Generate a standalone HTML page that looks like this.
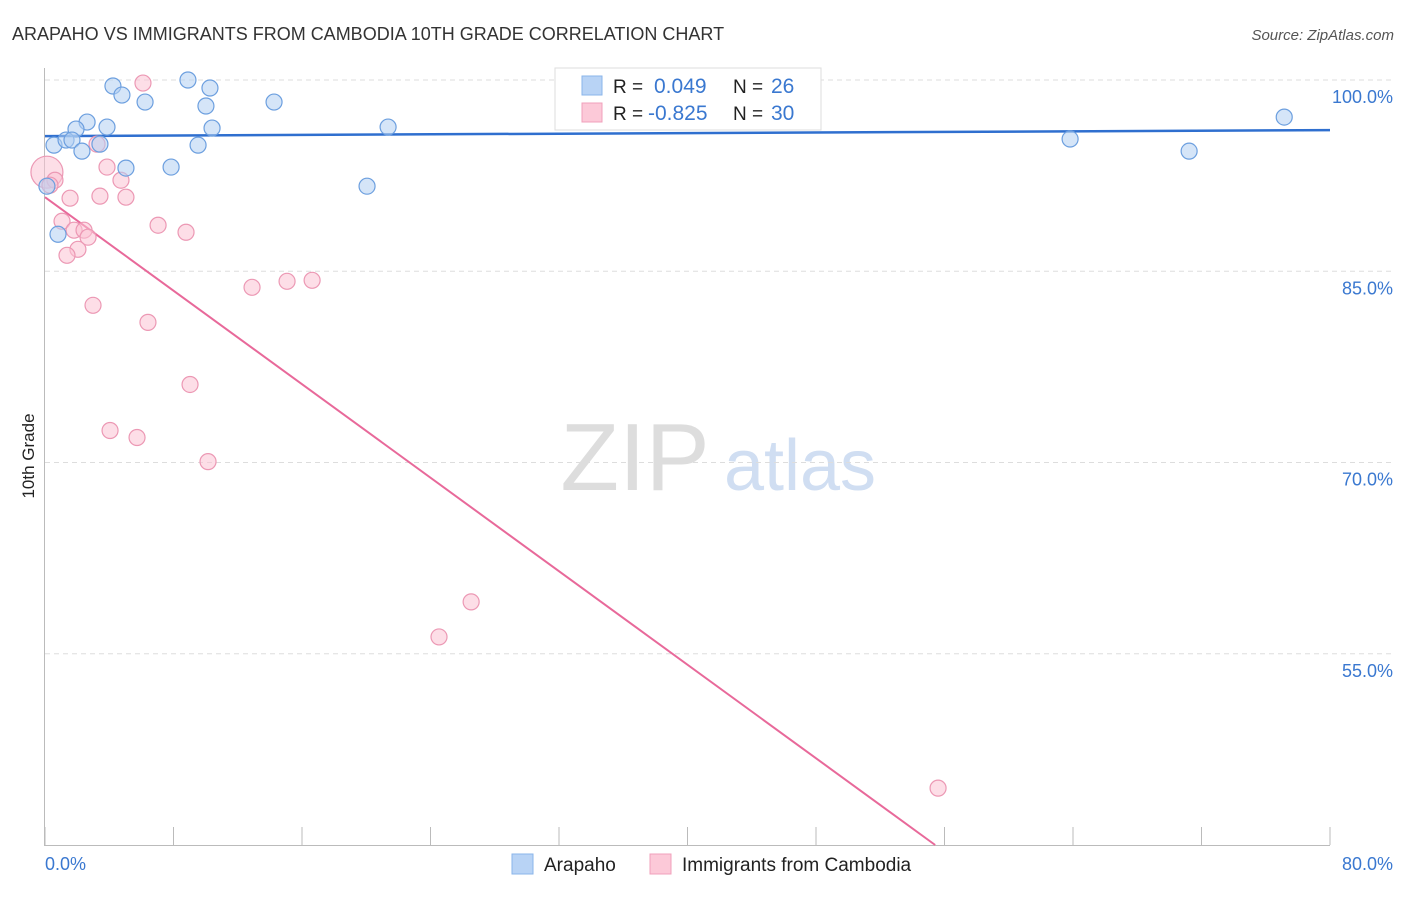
<!DOCTYPE html>
<html><head><meta charset="utf-8"><style>
body{margin:0;background:#fff;font-family:"Liberation Sans",sans-serif;}
svg text{font-family:"Liberation Sans",sans-serif;}
</style></head><body>
<svg width="1406" height="892" viewBox="0 0 1406 892">
<text x="12" y="40" font-size="18" fill="#333">ARAPAHO VS IMMIGRANTS FROM CAMBODIA 10TH GRADE CORRELATION CHART</text>
<text x="1394" y="40" font-size="15" fill="#555" font-style="italic" text-anchor="end">Source: ZipAtlas.com</text>
<text transform="translate(34,456) rotate(-90)" font-size="17" fill="#222" text-anchor="middle">10th Grade</text>
<g>
<text x="635" y="490" font-size="96" fill="#ddd" font-family="Liberation Serif" text-anchor="middle">ZIP</text>
<text x="800" y="490" font-size="72" fill="#d0def2" text-anchor="middle">atlas</text>
</g>
<g id="grid"></g><g id="axes"></g><g id="trend"></g><g id="pts"></g>
<g>
<rect x="555" y="68" width="266" height="62" fill="#fff" stroke="#ddd"/>
<rect x="582" y="76" width="20" height="19" fill="#b8d3f5" stroke="#8ab4ea"/>
<rect x="582" y="103" width="20" height="19" fill="#fcc9d8" stroke="#f0a0bb"/>
<text x="613" y="93" font-size="19" fill="#222">R = </text><text x="654" y="93" font-size="21" fill="#3a78d0">0.049</text>
<text x="733" y="93" font-size="19" fill="#222">N = </text><text x="771" y="93" font-size="21" fill="#3a78d0">26</text>
<text x="613" y="120" font-size="19" fill="#222">R = </text><text x="648" y="120" font-size="21" fill="#3a78d0">-0.825</text>
<text x="733" y="120" font-size="19" fill="#222">N = </text><text x="771" y="120" font-size="21" fill="#3a78d0">30</text>
</g>
<g>
<rect x="512" y="854" width="21" height="20" fill="#b8d3f5" stroke="#8ab4ea"/>
<text x="544" y="871" font-size="19" fill="#222">Arapaho</text>
<rect x="650" y="854" width="21" height="20" fill="#fcc9d8" stroke="#f0a0bb"/>
<text x="682" y="871" font-size="19" fill="#222">Immigrants from Cambodia</text>
</g>
</svg>
<script>
const blueX=[4.23,4.79,6.23,8.90,10.27,10.02,14.26,2.62,1.93,3.86,10.40,21.36,0.56,1.31,1.68,3.42,2.30,9.53,5.04,7.85,20.05,0.12,0.81,63.82,71.23,77.15];
const blueY=[99.53,98.82,98.27,100,99.37,97.96,98.27,96.70,96.15,96.31,96.23,96.31,94.89,95.29,95.29,94.97,94.42,94.89,93.09,93.17,91.67,91.67,87.90,95.37,94.42,97.09];
const pinkX=[6.10,0.12,0.62,0.31,1.56,3.86,4.73,3.42,5.04,1.06,1.81,2.43,2.68,2.05,1.37,7.04,8.78,3.24,2.99,6.41,12.89,15.07,16.63,9.03,4.05,5.73,10.15,26.53,24.53,55.60];
const pinkY=[99.76,92.77,92.14,91.75,90.73,93.17,92.14,90.89,90.81,88.92,88.22,88.22,87.67,86.72,86.25,88.61,88.06,94.97,82.33,80.99,83.74,84.21,84.29,76.12,72.51,71.96,70.07,59.07,56.32,44.46];
const blueTrend=[95.60,96.07];
const pinkTrend=[90.81,40];
const pinkTrendEnd=55.42;
const yTicks=[100,85,70,55];
const xLabels=["0.0%","80.0%"];
const sx=v=>45+v*16.0625;
const sy=v=>80+(100-v)*12.75;
const NS="http://www.w3.org/2000/svg";
function mk(p,t,a){const e=document.createElementNS(NS,t);for(const k in a)e.setAttribute(k,a[k]);p.appendChild(e);return e;}
const grid=document.getElementById('grid'),axes=document.getElementById('axes'),trend=document.getElementById('trend'),pts=document.getElementById('pts');
yTicks.forEach(v=>{
 const l=mk(grid,'line',{x1:45,x2:1392,y1:sy(v),y2:sy(v),stroke:'#ddd','stroke-dasharray':'5,4'});
 
 
 const t=mk(grid,'text',{x:1393,y:sy(v)+23,'font-size':18,fill:'#3a78d0','text-anchor':'end'});
 t.textContent=v.toFixed(1)+'%';
 
 
});
const ya=mk(axes,'line',{x1:44.5,x2:44.5,y1:68,y2:845,stroke:'#bbb'});


const xa=mk(axes,'line',{x1:44,x2:1330,y1:845.5,y2:845.5,stroke:'#bbb'});


for(let i=0;i<=10;i++){
 const tk=mk(axes,'line',{x1:sx(i*8),x2:sx(i*8),y1:827,y2:845,stroke:'#bbb'});
 
 
}
[[0,'start'],[80,'end']].forEach((p,i)=>{
 const t=mk(axes,'text',{x:i?1393:45,y:870,'font-size':18,fill:'#3a78d0','text-anchor':p[1]});
 t.textContent=xLabels[i];
 
 
});
function dot(x,y,r,f,s,n){
 const c=mk(pts,'circle',{cx:sx(x),cy:sy(y),r:r,fill:f,'fill-opacity':0.55,stroke:s,'stroke-width':1.2});
 
 
}
pinkX.forEach((x,i)=>dot(x,pinkY[i],i===1?16:8,'#fbc3d4','#ec98b4','point-cambodia'));
blueX.forEach((x,i)=>dot(x,blueY[i],8,'#b3cff3','#6c9fdf','point-arapaho'));
const bl=mk(trend,'line',{x1:sx(0),y1:sy(blueTrend[0]),x2:sx(80),y2:sy(blueTrend[1]),stroke:'#2f6fcf','stroke-width':2.5});


const pl=mk(trend,'line',{x1:sx(0),y1:sy(pinkTrend[0]),x2:sx(pinkTrendEnd),y2:sy(pinkTrend[1]),stroke:'#e8699a','stroke-width':2});


</script>
</body></html>
